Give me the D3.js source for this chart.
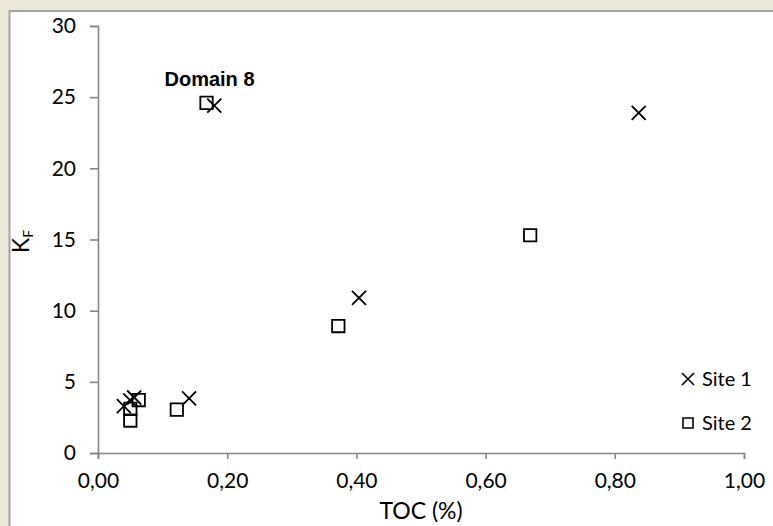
<!DOCTYPE html>
<html>
<head>
<meta charset="utf-8">
<script src="https://cdn.jsdelivr.net/npm/d3@7/dist/d3.min.js"></script>
<style>
  html, body { margin: 0; padding: 0; background: #ECE9D8; }
  svg { display: block; }
</style>
</head>
<body>
<svg id="chart" width="773" height="526"></svg>
<script>
// TOC content (%) and Freundlich K_F for the two sites
const site1TOC = [0.040, 0.050, 0.056, 0.141, 0.180, 0.404, 0.837];
const site1KF  = [3.30, 3.70, 3.90, 3.83, 24.40, 10.90, 23.90];
const site2TOC = [0.050, 0.050, 0.063, 0.122, 0.168, 0.372, 0.669];
const site2KF  = [2.28, 3.10, 3.72, 3.05, 24.60, 8.92, 15.30];

const xTicks = [0, 0.2, 0.4, 0.6, 0.8, 1.0];
const yTicks = [0, 5, 10, 15, 20, 25, 30];
const seriesNames = ["Site 1", "Site 2"];
const annotationText = "Domain 8";

const svg = d3.select("#chart");
const axisColor = "#868686";
const font = "Lato, 'Open Sans', sans-serif";

// white chart area with a grey frame
svg.append("rect")
  .attr("x", 9.5).attr("y", 11)
  .attr("width", 800).attr("height", 600)
  .attr("fill", "#ffffff")
  .attr("stroke", "#a3a3a3")
  .attr("stroke-width", 2);

const x = d3.scaleLinear().domain([0, 1]).range([98, 744]);
const y = d3.scaleLinear().domain([0, 30]).range([453, 26]);

const fmt = d => d3.format(".2f")(d).replace(".", ",");

// y axis
const yAxis = svg.append("g")
  .attr("transform", `translate(${x(0)},0)`)
  .call(d3.axisLeft(y).tickValues(yTicks).tickSize(8).tickPadding(14).tickFormat(d3.format("d")));
// x axis
const xAxis = svg.append("g")
  .attr("transform", `translate(0,${y(0)})`)
  .call(d3.axisBottom(x).tickValues(xTicks).tickSize(6).tickPadding(18).tickFormat(fmt));

[yAxis, xAxis].forEach(g => {
  g.select(".domain").attr("stroke", axisColor).attr("stroke-width", 1.6);
  g.selectAll(".tick line").attr("stroke", axisColor).attr("stroke-width", 1.6);
  g.selectAll(".tick text")
    .attr("fill", "#000")
    .style("font-family", font)
    .style("font-size", "21px");
});
xAxis.selectAll(".tick text").attr("dy", "0.5em");

// axis titles
svg.append("text")
  .attr("x", (x(0) + x(1)) / 2)
  .attr("y", 519)
  .attr("text-anchor", "middle")
  .style("font-family", font)
  .style("font-size", "23px")
  .text("TOC (%)");

const yTitle = svg.append("text")
  .attr("transform", `translate(29,${(y(0) + y(30)) / 2 + 2}) rotate(-90)`)
  .attr("text-anchor", "middle")
  .style("font-family", font)
  .style("font-size", "23px");
yTitle.append("tspan").text("K");
yTitle.append("tspan").attr("dy", "0.25em").style("font-size", "14px").text("F");

// marker shapes
const crossPath = s => `M${-s},${-s}L${s},${s}M${-s},${s}L${s},${-s}`;
const squarePath = s => `M${-s},${-s}H${s}V${s}H${-s}Z`;

const site1 = site1TOC.map((t, i) => ({ t, k: site1KF[i] }));
const site2 = site2TOC.map((t, i) => ({ t, k: site2KF[i] }));

svg.append("g").selectAll("path")
  .data(site2).join("path")
  .attr("d", squarePath(6.2))
  .attr("transform", d => `translate(${x(d.t)},${y(d.k)})`)
  .attr("fill", "none")
  .attr("stroke", "#000")
  .attr("stroke-width", 1.8);

svg.append("g").selectAll("path")
  .data(site1).join("path")
  .attr("d", crossPath(7))
  .attr("transform", d => `translate(${x(d.t)},${y(d.k)})`)
  .attr("fill", "none")
  .attr("stroke", "#000")
  .attr("stroke-width", 1.8);

// annotation above the highlighted pair
svg.append("text")
  .attr("x", x(site2TOC[4]) + 3)
  .attr("y", y(site2KF[4]) - 17)
  .attr("text-anchor", "middle")
  .style("font-family", "'Liberation Sans', Arial, sans-serif")
  .style("font-weight", "bold")
  .style("font-size", "20px")
  .text(annotationText);

// legend
const legend = svg.append("g").attr("transform", "translate(688,0)");
const legendY = [379, 423];
legend.append("path")
  .attr("d", crossPath(6))
  .attr("transform", `translate(0,${legendY[0]})`)
  .attr("fill", "none").attr("stroke", "#000").attr("stroke-width", 1.6);
legend.append("path")
  .attr("d", squarePath(5))
  .attr("transform", `translate(0,${legendY[1]})`)
  .attr("fill", "none").attr("stroke", "#000").attr("stroke-width", 1.6);
legend.selectAll("text")
  .data(seriesNames).join("text")
  .attr("x", 14)
  .attr("y", (d, i) => legendY[i])
  .attr("dy", "0.36em")
  .style("font-family", font)
  .style("font-size", "20px")
  .text(d => d);
</script>
</body>
</html>
